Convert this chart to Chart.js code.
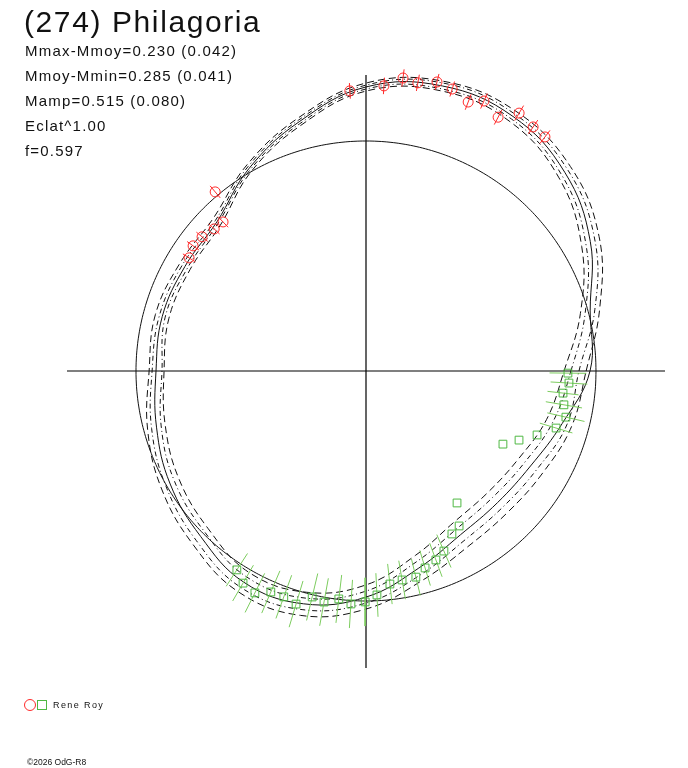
<!DOCTYPE html>
<html>
<head>
<meta charset="utf-8">
<script src="https://cdn.jsdelivr.net/npm/chart.js@4.4.1/dist/chart.umd.min.js"></script>
<style>
body { margin: 0; background: #fff; }
#wrap { position: relative; width: 688px; height: 768px; font-family: "Liberation Sans", Arial, sans-serif; color: #111; }
#wrap canvas { position: absolute; left: 0; top: 0; }
.title { position: absolute; left: 24px; top: 4px; font-size: 30px; line-height: 36px; letter-spacing: 1.6px; white-space: nowrap; }
.stats { position: absolute; left: 25px; top: 38px; font-size: 15px; line-height: 25px; letter-spacing: 1.2px; white-space: nowrap; }
.legend { position: absolute; left: 24px; top: 698px; height: 14px; white-space: nowrap; }
.mk-circle { position: absolute; left: 0; top: 1px; width: 10px; height: 10px; border: 1px solid #ff2a2a; border-radius: 50%; }
.mk-square { position: absolute; left: 13px; top: 2px; width: 8px; height: 8px; border: 1px solid #4fb843; }
.legend .lbl { position: absolute; left: 29px; top: 0; font-size: 9px; line-height: 14px; letter-spacing: 1.4px; }
.footer { position: absolute; left: 27px; top: 756px; font-size: 8.5px; line-height: 12px; white-space: nowrap; }
</style>
</head>
<body>
<div id="wrap">
  <canvas id="polarChart" width="688" height="768"></canvas>
  <div class="title">(274) Philagoria</div>
  <div class="stats">
    <div>Mmax-Mmoy=0.230 (0.042)</div>
    <div>Mmoy-Mmin=0.285 (0.041)</div>
    <div>Mamp=0.515 (0.080)</div>
    <div>Eclat^1.00</div>
    <div>f=0.597</div>
  </div>
  <div class="legend"><span class="mk-circle"></span><span class="mk-square"></span><span class="lbl">Rene Roy</span></div>
  <div class="footer">&copy;2026 OdG-R8</div>
</div>
<script>
// rotation phase (deg) of the model curves, radius 1 = mean level
const phases = [0, 15, 30, 45, 60, 75, 90, 105, 120, 135, 150, 165, 180, 195, 210, 225, 240, 255, 270, 285, 300, 315, 330, 345];
const modelMain   = [0.974, 1.009, 1.126, 1.222, 1.278, 1.283, 1.235, 1.122, 1.017, 0.917, 0.909, 0.917, 0.913, 0.943, 0.983, 1.017, 1.061, 1.048, 0.983, 0.887, 0.822, 0.809, 0.826, 0.883];
const modelInner2 = [0.861, 0.965, 1.083, 1.187, 1.252, 1.261, 1.217, 1.104, 1.000, 0.896, 0.883, 0.887, 0.878, 0.904, 0.939, 0.970, 1.013, 0.996, 0.930, 0.830, 0.761, 0.748, 0.765, 0.813];
const modelInner1 = [0.891, 0.987, 1.104, 1.204, 1.265, 1.270, 1.226, 1.113, 1.009, 0.909, 0.896, 0.904, 0.887, 0.922, 0.961, 0.991, 1.035, 1.022, 0.957, 0.857, 0.791, 0.778, 0.796, 0.843];
const modelOuter1 = [0.926, 1.030, 1.148, 1.239, 1.291, 1.296, 1.243, 1.130, 1.026, 0.926, 0.922, 0.930, 0.930, 0.965, 1.004, 1.043, 1.087, 1.074, 1.009, 0.917, 0.852, 0.839, 0.857, 0.904];
const modelOuter2 = [0.957, 1.052, 1.170, 1.257, 1.304, 1.304, 1.252, 1.139, 1.035, 0.939, 0.935, 0.948, 0.943, 0.983, 1.026, 1.065, 1.109, 1.100, 1.035, 0.943, 0.883, 0.870, 0.887, 0.926];
const meanLevel = 1.0;

// session 1 (red circles)
const redPhase = [52.6, 55.6, 59.3, 62.5, 66.4, 69.2, 73.0, 76.2, 79.8, 82.8, 86.4, 93.3, 130.1, 133.8, 136.9, 140.7, 144.1, 147.4];
const redMag   = [1.281, 1.286, 1.304, 1.244, 1.281, 1.251, 1.282, 1.294, 1.273, 1.284, 1.242, 1.220, 1.018, 0.898, 0.904, 0.921, 0.928, 0.913];
const redErr   = [0.036, 0.036, 0.038, 0.036, 0.036, 0.036, 0.034, 0.036, 0.036, 0.038, 0.036, 0.034, 0.034, 0.032, 0.032, 0.032, 0.032, 0.032];

// session 2 (green squares)
const greenPhase = [359.4, 356.6, 353.6, 350.3, 347.0, 343.3, 339.5, 335.7, 331.9, 304.6, 301.0, 297.8, 293.4, 290.3, 286.7, 283.6, 279.8, 276.4, 272.8, 269.8, 266.3, 263.2, 259.7, 256.6, 253.3, 250.0, 246.7, 243.4, 239.9, 237.0];
const greenMag   = [0.878, 0.884, 0.862, 0.873, 0.892, 0.863, 0.794, 0.730, 0.675, 0.697, 0.786, 0.801, 0.853, 0.876, 0.894, 0.922, 0.922, 0.932, 0.975, 1.004, 1.015, 0.998, 1.021, 1.010, 1.058, 1.045, 1.046, 1.079, 1.066, 1.031];
const greenErr   = [0.080, 0.080, 0.068, 0.080, 0.083, 0.074, 0, 0, 0, 0, 0, 0, 0.078, 0.078, 0.080, 0.082, 0.085, 0.088, 0.095, 0.105, 0.105, 0.105, 0.105, 0.105, 0.105, 0.100, 0.100, 0.095, 0.090, 0.085];

const RAD = Math.PI / 180;
const toXY = (deg, r) => ({ x: r * Math.cos(deg * RAD), y: r * Math.sin(deg * RAD) });

// closed loop: wrap one point on each side so the spline closes smoothly,
// the two extra segments are hidden
function loopPoints(radii) {
    const n = radii.length;
    const pts = radii.map((r, i) => toXY(phases[i], r));
    return [pts[n - 1], ...pts, pts[0], pts[1]];
}
const hideWrap = (n) => ctx => (ctx.p0DataIndex === 0 || ctx.p1DataIndex === n + 2) ? 'rgba(0,0,0,0)' : undefined;

function circlePoints(r) {
    const pts = [];
    for (let a = 0; a <= 360; a += 3) pts.push(toXY(a, r));
    return pts;
}

// radial error bars, broken with null gaps
function errorBars(phase, mag, err) {
    const pts = [];
    phase.forEach((p, i) => {
        if (!err[i]) return;
        pts.push(toXY(p, mag[i] - err[i]), toXY(p, mag[i] + err[i]), { x: null, y: null });
    });
    return pts;
}

const n = phases.length;
const loopStyle = (label, radii, dash, order) => ({
    type: 'line',
    label: label,
    data: loopPoints(radii),
    borderColor: '#111',
    borderWidth: 1,
    borderDash: dash,
    tension: 0.4,
    pointRadius: 0,
    fill: false,
    order: order,
    segment: { borderColor: hideWrap(n) }
});

new Chart(document.getElementById('polarChart'), {
    type: 'scatter',
    data: {
        datasets: [
            {
                type: 'scatter',
                label: 'Rene Roy 1',
                data: redPhase.map((p, i) => toXY(p, redMag[i])),
                pointStyle: 'circle',
                pointRadius: 5,
                borderColor: '#ff2a2a',
                backgroundColor: 'rgba(0,0,0,0)',
                borderWidth: 1,
                order: 0
            },
            {
                type: 'scatter',
                label: 'Rene Roy 2',
                data: greenPhase.map((p, i) => toXY(p, greenMag[i])),
                pointStyle: 'rect',
                pointRadius: 5.5,
                borderColor: '#4fb843',
                backgroundColor: 'rgba(0,0,0,0)',
                borderWidth: 1,
                order: 0
            },
            {
                type: 'line',
                label: 'err 1',
                data: errorBars(redPhase, redMag, redErr),
                borderColor: '#ff2a2a',
                borderWidth: 1,
                pointRadius: 0,
                spanGaps: false,
                order: 1
            },
            {
                type: 'line',
                label: 'err 2',
                data: errorBars(greenPhase, greenMag, greenErr),
                borderColor: '#7ccc5e',
                borderWidth: 1,
                pointRadius: 0,
                spanGaps: false,
                order: 1
            },
            loopStyle('model', modelMain, [], 2),
            loopStyle('inner 2', modelInner2, [7, 4], 2),
            loopStyle('inner 1', modelInner1, [5, 3, 1, 3], 2),
            loopStyle('outer 1', modelOuter1, [5, 3, 1, 3], 2),
            loopStyle('outer 2', modelOuter2, [7, 4], 2),
            {
                type: 'line',
                label: 'mean',
                data: circlePoints(meanLevel),
                borderColor: '#111',
                borderWidth: 1,
                tension: 0.4,
                pointRadius: 0,
                order: 3
            },
            {
                type: 'line',
                label: 'x axis',
                data: [{ x: -1.3, y: 0 }, { x: 1.3, y: 0 }],
                borderColor: '#000',
                borderWidth: 1.2,
                pointRadius: 0,
                order: 4
            },
            {
                type: 'line',
                label: 'y axis',
                data: [{ x: 0, y: 1.287 }, { x: 0, y: -1.291 }],
                borderColor: '#000',
                borderWidth: 1.2,
                pointRadius: 0,
                order: 4
            }
        ]
    },
    options: {
        responsive: false,
        animation: false,
        events: [],
        layout: {
            padding: { left: 67, right: 23, top: 72, bottom: 98 }
        },
        scales: {
            x: { type: 'linear', min: -1.3, max: 1.3, display: false },
            y: { type: 'linear', min: -1.3, max: 1.3, display: false }
        },
        plugins: {
            legend: { display: false },
            tooltip: { enabled: false }
        },
        elements: {
            line: { capBezierPoints: false }
        },
        clip: false
    }
});
</script>
</body>
</html>
